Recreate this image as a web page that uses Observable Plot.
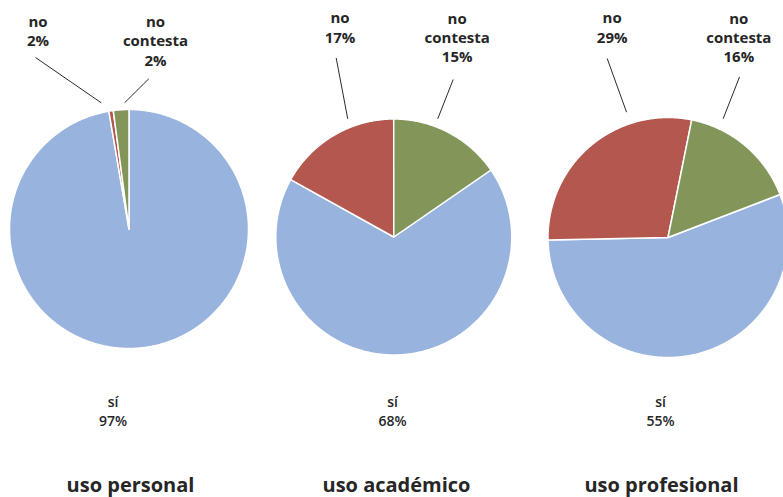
<!DOCTYPE html>
<html><head><meta charset="utf-8">
<script src="https://cdn.jsdelivr.net/npm/d3@7"></script>
<script src="https://cdn.jsdelivr.net/npm/@observablehq/plot@0.6"></script>
<style>body{margin:0;background:#fff}</style>
</head><body><div id="chart"></div>
<script>
// ---- data ----
const usos = ["uso personal", "uso académico", "uso profesional"];
const categorias = ["sí", "no", "no contesta"];
const si = [97.3, 67.7, 55.5];
const no = [0.6, 16.9, 28.5];
const noContesta = [2.1, 15.4, 16.0];
const etiquetasSi = ["97%", "68%", "55%"];
const etiquetasNo = ["2%", "17%", "29%"];
const etiquetasNC = ["2%", "15%", "16%"];
const colores = ["#98b4de", "#b3574f", "#82965a"];

// ---- layout ----
const centros = [[128.5, 228.5], [393.3, 236.5], [667.5, 237]];
const radios = [119.5, 118, 120];
const giros = [0, 55.4, 69];            // start angle of "sí" slice (deg, clockwise from top)
const noLabelX = [37.5, 339.5, 611.7], noLabelY = [45.5, 42.3, 42];
const ncLabelX = [155, 456.7, 738.3], ncLabelY = [65, 61.7, 61.7];
const noLeaderStart = [[35, 57], [335.7, 57.5], [606.7, 58]];
const ncLeaderStart = [[148.3, 78.3], [452.7, 79], [739, 76.5]];
const noLeaderEnd = [[-12.4, 9.7], [-21.3, 8.8], [-18.3, 12]];   // [angle, offset beyond radius]
const ncLeaderEnd = [[-2.0, 6.8], [20.4, 8.1], [24.9, 10.9]];
const siLabelX = [112.5, 392, 660], siLabelY = 425;
const tituloX = [130, 396, 661], tituloY = 491;

const valores = [si, no, noContesta];
const rad = d => d * Math.PI / 180;

// slice polygons
const puntos = [];
usos.forEach((uso, i) => {
  let a = giros[i];
  const [cx, cy] = centros[i], r = radios[i];
  categorias.forEach((cat, j) => {
    const v = valores[j][i];
    const a0 = a, a1 = a + v * 3.6;
    const key = uso + "|" + cat;
    puntos.push({key, cat, x: cx, y: cy});
    const n = Math.max(2, Math.ceil((a1 - a0) / 0.5));
    for (let k = 0; k <= n; k++) {
      const t = rad(a0 + (a1 - a0) * k / n);
      puntos.push({key, cat, x: cx + r * Math.sin(t), y: cy - r * Math.cos(t)});
    }
    a = a1;
  });
});

// leader lines
const lideres = [];
usos.forEach((uso, i) => {
  const [cx, cy] = centros[i], r = radios[i];
  [[noLeaderStart, noLeaderEnd], [ncLeaderStart, ncLeaderEnd]].forEach(([s, e]) => {
    const [ang, off] = e[i];
    lideres.push({x1: s[i][0], y1: s[i][1],
      x2: cx + (r + off) * Math.sin(rad(ang)), y2: cy - (r + off) * Math.cos(rad(ang))});
  });
});

const etiquetasTop = [];
usos.forEach((uso, i) => {
  etiquetasTop.push({x: noLabelX[i], y: noLabelY[i], t: "no\n" + etiquetasNo[i]});
  etiquetasTop.push({x: ncLabelX[i], y: ncLabelY[i], t: "no\ncontesta\n" + etiquetasNC[i]});
});
const etiquetasBot = usos.map((u, i) => ({x: siLabelX[i], y: siLabelY, t: "sí\n" + etiquetasSi[i]}));
const titulos = usos.map((u, i) => ({x: tituloX[i], y: tituloY, t: u}));

const chart = Plot.plot({
  width: 783, height: 497,
  margin: 0,
  x: {domain: [0, 783], axis: null},
  y: {domain: [0, 497], reverse: true, axis: null},
  color: {domain: categorias, range: colores},
  style: {fontFamily: "'Open Sans', sans-serif", background: "#fff"},
  marks: [
    Plot.line(puntos, {x: "x", y: "y", z: "key", fill: "cat", stroke: "white",
      strokeWidth: 1.5, strokeLinejoin: "round", curve: "linear-closed"}),
    Plot.link(lideres, {x1: "x1", y1: "y1", x2: "x2", y2: "y2", stroke: "#2a2a2a", strokeWidth: 1}),
    Plot.text(etiquetasTop, {x: "x", y: "y", text: "t", lineAnchor: "bottom", lineHeight: 1.29,
      fontSize: 15, fontWeight: "bold", fill: "#262626"}),
    Plot.text(etiquetasBot, {x: "x", y: "y", text: "t", lineAnchor: "bottom", lineHeight: 1.3,
      fontSize: 14, fontWeight: 600, fill: "#262626"}),
    Plot.text(titulos, {x: "x", y: "y", text: "t", lineAnchor: "bottom",
      fontSize: 20, fontWeight: "bold", fill: "#262626"})
  ]
});
document.getElementById("chart").appendChild(chart);
</script>
</body></html>
